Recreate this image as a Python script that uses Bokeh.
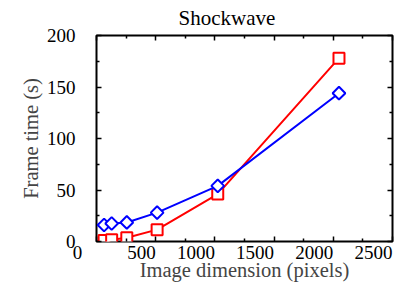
import math
from bokeh.plotting import figure
from bokeh.models import (ColumnDataSource, LinearAxis, FixedTicker,
                          CustomJSTickFormatter, Range1d)
from bokeh.embed import file_html
from bokeh.resources import INLINE

# ---- data ----
dims = [64, 128, 256, 512, 1024, 2048]
series_blue = [16.0, 17.5, 18.5, 28.0, 54.0, 144.0]
series_red = [1.0, 1.6, 3.6, 11.5, 46.0, 178.0]
x_ticks = [0, 500, 1000, 1500, 2000, 2500]
x_tick_labels = ["0", "500", "1000", "1500", "2000", "2500"]
x_minor = [250, 750, 1250, 1750, 2250]
y_ticks = [0, 50, 100, 150, 200]
y_minor = [25, 75, 125, 175]
title_text = "Shockwave"
x_label = "Image dimension (pixels)"
y_label = "Frame time (s)"

FONT = "Liberation Serif"
TICK_FS = "19px"
LAB_FS = "20.5px"
NBSP = "\u00a0"

p = figure(width=409, height=285, output_backend="svg", toolbar_location=None,
           title=title_text,
           x_range=Range1d(0, 2500), y_range=Range1d(0, 200),
           x_axis_location=None, y_axis_location=None,
           min_border_left=96, min_border_right=17, min_border_top=35,
           min_border_bottom=44)
p.title.align = "left"
p.title.offset = 82
p.title.vertical_align = "top"
p.title.text_font = FONT
p.title.text_font_size = "21px"
p.title.text_font_style = "normal"
p.title.text_color = "black"
p.title.standoff = 8
p.grid.visible = False
p.outline_line_color = "black"
p.outline_line_width = 2
p.background_fill_color = "white"
p.border_fill_color = "white"

empty = CustomJSTickFormatter(code="return ''")

def style_axis(ax, is_x, labels):
    ax.ticker = FixedTicker(ticks=x_ticks if is_x else y_ticks,
                            minor_ticks=x_minor if is_x else y_minor)
    ax.axis_line_color = None
    ax.major_tick_in = 5
    ax.major_tick_out = 0
    ax.minor_tick_in = 3
    ax.minor_tick_out = 0
    ax.major_tick_line_width = 1.5
    ax.minor_tick_line_width = 1.5
    ax.major_tick_line_color = "black"
    ax.minor_tick_line_color = "black"
    if not labels:
        ax.formatter = empty

ax_below = LinearAxis()
ax_above = LinearAxis()
ax_left = LinearAxis()
ax_right = LinearAxis()

style_axis(ax_below, True, True)
style_axis(ax_above, True, False)
style_axis(ax_left, False, True)
style_axis(ax_right, False, False)

ax_left.major_label_text_font = FONT
ax_left.major_label_text_font_size = TICK_FS
ax_left.major_label_text_color = "black"
ax_left.major_label_standoff = 21
ax_left.axis_label = y_label
ax_left.axis_label_text_font = FONT
ax_left.axis_label_text_font_size = LAB_FS
ax_left.axis_label_text_font_style = "normal"
ax_left.axis_label_standoff = 2

# x tick labels: right-aligned at their ticks, as in the reference
overrides = {}
for xv, txt in zip(x_ticks, x_tick_labels):
    overrides[xv] = txt + (NBSP * 3 if xv == 0 else "")
ax_below.major_label_overrides = overrides
ax_below.major_label_orientation = 1e-9
ax_below.major_label_text_font = FONT
ax_below.major_label_text_font_size = TICK_FS
ax_below.major_label_text_color = "black"
ax_below.major_label_standoff = 11
ax_below.axis_label = x_label
ax_below.axis_label_text_font = FONT
ax_below.axis_label_text_font_size = LAB_FS
ax_below.axis_label_text_font_style = "normal"
ax_below.axis_label_standoff = -18

p.add_layout(ax_below, "below")
p.add_layout(ax_above, "above")
p.add_layout(ax_left, "left")
p.add_layout(ax_right, "right")

src_red = ColumnDataSource(dict(x=dims, y=series_red))
src_blue = ColumnDataSource(dict(x=dims, y=series_blue))

p.line("x", "y", source=src_red, line_color="#ff0000", line_width=2)
p.scatter("x", "y", source=src_red, marker="square", size=11,
          line_color="#ff0000", line_width=2, fill_color="white")
p.line("x", "y", source=src_blue, line_color="#0000ff", line_width=2)
p.scatter("x", "y", source=src_blue, marker="square", angle=math.pi / 4, size=9,
          line_color="#0000ff", line_width=2, fill_color="white")

open("out.html", "w").write(file_html(p, INLINE))
